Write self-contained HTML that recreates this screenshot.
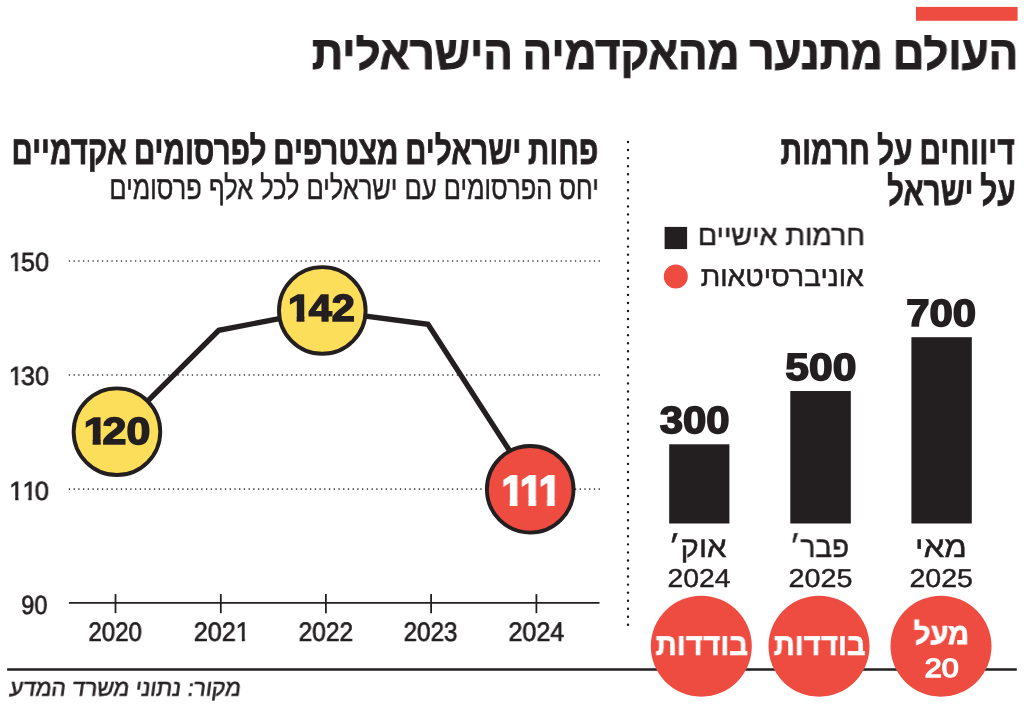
<!DOCTYPE html>
<html lang="he"><head><meta charset="utf-8"><title>העולם מתנער מהאקדמיה הישראלית</title>
<style>
html,body{margin:0;padding:0;background:#fff}
#g{position:relative;width:1024px;height:705px;overflow:hidden;background:#fff;font-family:"Liberation Sans",sans-serif}
.t{position:absolute;left:0;top:0;line-height:1;white-space:nowrap;direction:rtl;text-align:left;transform-origin:0 0;unicode-bidi:plaintext;paint-order:stroke fill;text-rendering:geometricPrecision;will-change:transform}
</style></head><body>
<div id="g">
<svg width="1024" height="705" viewBox="0 0 1024 705" style="position:absolute;left:0;top:0">
<rect x="916" y="6.9" width="101.6" height="13.9" fill="#ee4b41"/>
<line x1="628" y1="142" x2="628" y2="625.3" stroke="#1a1718" stroke-width="2.4" stroke-linecap="round" stroke-dasharray="0 8.047"/>
<line x1="69.45" y1="261" x2="599.4" y2="261" stroke="#231f20" stroke-width="1.6" stroke-linecap="round" stroke-dasharray="0 4.73"/>
<line x1="69.45" y1="375" x2="599.4" y2="375" stroke="#231f20" stroke-width="1.6" stroke-linecap="round" stroke-dasharray="0 4.73"/>
<line x1="69.45" y1="489.1" x2="599.4" y2="489.1" stroke="#231f20" stroke-width="1.6" stroke-linecap="round" stroke-dasharray="0 4.73"/>
<line x1="68.9" y1="602.85" x2="599.5" y2="602.85" stroke="#231f20" stroke-width="1.8"/>
<line x1="115.5" y1="594.1" x2="115.5" y2="613.2" stroke="#231f20" stroke-width="1.8"/>
<line x1="220.8" y1="594.1" x2="220.8" y2="613.2" stroke="#231f20" stroke-width="1.8"/>
<line x1="325.9" y1="594.1" x2="325.9" y2="613.2" stroke="#231f20" stroke-width="1.8"/>
<line x1="431.1" y1="594.1" x2="431.1" y2="613.2" stroke="#231f20" stroke-width="1.8"/>
<line x1="536.4" y1="594.1" x2="536.4" y2="613.2" stroke="#231f20" stroke-width="1.8"/>
<polyline points="116.95,431.7 218.8,330.3 322.3,310.4 428,324.3 534.5,489.3" fill="none" stroke="#231f20" stroke-width="5.3" stroke-linejoin="miter"/>
<circle cx="116.95" cy="431.7" r="43.3" fill="#fdde5a" stroke="#231f20" stroke-width="3.9"/>
<circle cx="322.3" cy="310.4" r="43.3" fill="#fdde5a" stroke="#231f20" stroke-width="3.9"/>
<circle cx="530.2" cy="489.3" r="43.3" fill="#ee4b41" stroke="#231f20" stroke-width="3.9"/>
<rect x="664.6" y="226.9" width="22.5" height="22.2" fill="#231f20"/>
<circle cx="675.8" cy="276.4" r="12" fill="#ee4b41"/>
<rect x="669.2" y="444.3" width="60.2" height="79.2" fill="#231f20"/>
<rect x="790.3" y="391" width="60.5" height="132.5" fill="#231f20"/>
<rect x="911.4" y="337.2" width="60.4" height="186.3" fill="#231f20"/>
<line x1="7.1" y1="669.6" x2="1016.8" y2="669.6" stroke="#231f20" stroke-width="2.5"/>
<circle cx="701.3" cy="646.2" r="50.5" fill="#ee4b41"/>
<circle cx="819" cy="646.2" r="50.5" fill="#ee4b41"/>
<circle cx="941" cy="646.2" r="50.5" fill="#ee4b41"/>
</svg>
<div class="t" style="font-size:47.03px;font-weight:bold;font-style:normal;color:#231f20;-webkit-text-stroke:1.0px #231f20;word-spacing:-0.05em;clip-path:inset(6.2px -20px -20px -20px);transform:translate(311.81px,29.00px) scaleX(0.9306)">העולם מתנער מהאקדמיה הישראלית</div>
<div class="t" style="font-size:40.27px;font-weight:bold;font-style:normal;color:#231f20;-webkit-text-stroke:0.8px #231f20;word-spacing:-0.05em;clip-path:inset(1.6px -20px -20px -20px);transform:translate(11.40px,131.00px) scaleX(0.7361)">פחות ישראלים מצטרפים לפרסומים אקדמיים</div>
<div class="t" style="font-size:32.88px;font-weight:normal;font-style:normal;color:#231f20;-webkit-text-stroke:0.5px #231f20;clip-path:inset(0.3px -20px -20px -20px);transform:translate(109.28px,172.00px) scaleX(0.7736)">יחס הפרסומים עם ישראלים לכל אלף פרסומים</div>
<div class="t" style="font-size:40.27px;font-weight:bold;font-style:normal;color:#231f20;-webkit-text-stroke:0.8px #231f20;word-spacing:-0.05em;clip-path:inset(1.0px -20px -20px -20px);transform:translate(780.52px,131.00px) scaleX(0.7430)">דיווחים על חרמות</div>
<div class="t" style="font-size:40.60px;font-weight:bold;font-style:normal;color:#231f20;-webkit-text-stroke:0.8px #231f20;word-spacing:-0.05em;clip-path:inset(1.9px -20px -20px -20px);transform:translate(886.99px,171.00px) scaleX(0.7313)">על ישראל</div>
<div class="t" style="font-size:28.54px;font-weight:normal;font-style:normal;color:#231f20;-webkit-text-stroke:0.5px #231f20;transform:translate(697.82px,222.00px) scaleX(0.9975)">חרמות אישיים</div>
<div class="t" style="font-size:28.04px;font-weight:normal;font-style:normal;color:#231f20;-webkit-text-stroke:0.5px #231f20;transform:translate(700.67px,263.00px) scaleX(1.0098)">אוניברסיטאות</div>
<div class="t" style="font-size:37.94px;font-weight:bold;font-style:normal;color:#231f20;-webkit-text-stroke:1.6px #231f20;transform:translate(659.69px,403.00px) scaleX(1.1045)">300</div>
<div class="t" style="font-size:37.94px;font-weight:bold;font-style:normal;color:#231f20;-webkit-text-stroke:1.6px #231f20;transform:translate(785.31px,350.00px) scaleX(1.1233)">500</div>
<div class="t" style="font-size:37.94px;font-weight:bold;font-style:normal;color:#231f20;-webkit-text-stroke:1.6px #231f20;transform:translate(906.26px,296.00px) scaleX(1.1049)">700</div>
<div class="t" style="font-size:29.21px;font-weight:normal;font-style:normal;color:#231f20;-webkit-text-stroke:0.5px #231f20;transform:translate(668.60px,534.00px) scaleX(1.0650)">אוק׳</div>
<div class="t" style="font-size:29.21px;font-weight:normal;font-style:normal;color:#231f20;-webkit-text-stroke:0.5px #231f20;transform:translate(789.73px,534.00px) scaleX(0.9554)">פבר׳</div>
<div class="t" style="font-size:29.21px;font-weight:normal;font-style:normal;color:#231f20;-webkit-text-stroke:0.5px #231f20;transform:translate(915.12px,534.00px) scaleX(1.1249)">מאי</div>
<div class="t" style="font-size:25.87px;font-weight:normal;font-style:normal;color:#231f20;-webkit-text-stroke:0.4px #231f20;transform:translate(667.45px,567.00px) scaleX(1.0955)">2024</div>
<div class="t" style="font-size:25.87px;font-weight:normal;font-style:normal;color:#231f20;-webkit-text-stroke:0.4px #231f20;transform:translate(788.62px,567.00px) scaleX(1.1123)">2025</div>
<div class="t" style="font-size:25.87px;font-weight:normal;font-style:normal;color:#231f20;-webkit-text-stroke:0.4px #231f20;transform:translate(909.39px,567.00px) scaleX(1.1061)">2025</div>
<div class="t" style="font-size:31.03px;font-weight:bold;font-style:normal;color:#fff;-webkit-text-stroke:0.6px #fff;transform:translate(655.60px,629.00px) scaleX(0.9549)">בודדות</div>
<div class="t" style="font-size:31.03px;font-weight:bold;font-style:normal;color:#fff;-webkit-text-stroke:0.6px #fff;transform:translate(773.79px,629.00px) scaleX(0.9478)">בודדות</div>
<div class="t" style="font-size:29.54px;font-weight:bold;font-style:normal;color:#fff;-webkit-text-stroke:0.8px #fff;clip-path:inset(-0.1px -20px -20px -20px);transform:translate(913.77px,620.00px) scaleX(0.9838)">מעל</div>
<div class="t" style="font-size:26.31px;font-weight:normal;font-style:normal;color:#fff;-webkit-text-stroke:1.4px #fff;transform:translate(924.80px,655.00px) scaleX(1.1575)">20</div>
<div class="t" style="font-size:26.31px;font-weight:normal;font-style:normal;color:#231f20;-webkit-text-stroke:0.7px #231f20;direction:ltr;transform:translate(8.93px,249.00px) scaleX(0.9583)"><span style="display:inline-block;clip-path:polygon(-2px -6px,16.63px -6px,16.63px 18.59px,9.39px 18.59px,9.39px 32.31px,6.17px 32.31px,6.17px 18.59px,-2px 18.59px);margin-right:-2.04px">1</span>50</div>
<div class="t" style="font-size:26.31px;font-weight:normal;font-style:normal;color:#231f20;-webkit-text-stroke:0.7px #231f20;direction:ltr;transform:translate(8.93px,363.00px) scaleX(0.9583)"><span style="display:inline-block;clip-path:polygon(-2px -6px,16.63px -6px,16.63px 18.59px,9.39px 18.59px,9.39px 32.31px,6.17px 32.31px,6.17px 18.59px,-2px 18.59px);margin-right:-2.04px">1</span>30</div>
<div class="t" style="font-size:26.31px;font-weight:normal;font-style:normal;color:#231f20;-webkit-text-stroke:0.7px #231f20;direction:ltr;transform:translate(9.23px,478.00px) scaleX(0.9768)"><span style="display:inline-block;clip-path:polygon(-2px -6px,16.63px -6px,16.63px 18.59px,9.39px 18.59px,9.39px 32.31px,6.17px 32.31px,6.17px 18.59px,-2px 18.59px);margin-right:-1.27px">1</span><span style="display:inline-block;clip-path:polygon(-2px -6px,16.63px -6px,16.63px 18.59px,9.39px 18.59px,9.39px 32.31px,6.17px 32.31px,6.17px 18.59px,-2px 18.59px);margin-right:-2.04px">1</span>0</div>
<div class="t" style="font-size:26.31px;font-weight:normal;font-style:normal;color:#231f20;-webkit-text-stroke:0.7px #231f20;transform:translate(21.23px,592.00px) scaleX(0.8916)">90</div>
<div class="t" style="font-size:26.74px;font-weight:normal;font-style:normal;color:#231f20;-webkit-text-stroke:0.7px #231f20;transform:translate(88.42px,619.00px) scaleX(0.8997)">2020</div>
<div class="t" style="font-size:26.74px;font-weight:normal;font-style:normal;color:#231f20;-webkit-text-stroke:0.7px #231f20;direction:ltr;transform:translate(193.77px,619.00px) scaleX(0.9429)">202<span style="display:inline-block;clip-path:polygon(-2px -6px,16.87px -6px,16.87px 18.55px,9.54px 18.55px,9.54px 32.74px,6.28px 32.74px,6.28px 18.55px,-2px 18.55px);margin-right:-3.12px">1</span></div>
<div class="t" style="font-size:26.74px;font-weight:normal;font-style:normal;color:#231f20;-webkit-text-stroke:0.7px #231f20;transform:translate(298.60px,619.00px) scaleX(0.9180)">2022</div>
<div class="t" style="font-size:26.74px;font-weight:normal;font-style:normal;color:#231f20;-webkit-text-stroke:0.7px #231f20;transform:translate(403.60px,619.00px) scaleX(0.9069)">2023</div>
<div class="t" style="font-size:26.74px;font-weight:normal;font-style:normal;color:#231f20;-webkit-text-stroke:0.7px #231f20;transform:translate(508.47px,619.00px) scaleX(0.9391)">2024</div>
<div class="t" style="font-size:37.79px;font-weight:bold;font-style:normal;color:#231f20;-webkit-text-stroke:1.6px #231f20;direction:ltr;transform:translate(83.73px,414.00px) scaleX(1.1342)"><span style="display:inline-block;clip-path:polygon(-2px -6px,23.02px -6px,23.02px 24.28px,14.91px 24.28px,14.91px 43.79px,7.92px 43.79px,7.92px 24.28px,-2px 24.28px);margin-right:-4.41px">1</span>20</div>
<div class="t" style="font-size:37.79px;font-weight:bold;font-style:normal;color:#231f20;-webkit-text-stroke:1.6px #231f20;direction:ltr;transform:translate(288.00px,291.00px) scaleX(1.0981)"><span style="display:inline-block;clip-path:polygon(-2px -6px,23.02px -6px,23.02px 24.28px,14.91px 24.28px,14.91px 43.79px,7.92px 43.79px,7.92px 24.28px,-2px 24.28px);margin-right:-2.20px">1</span>42</div>
<div class="t" style="font-size:42.30px;font-weight:bold;font-style:normal;color:#fff;-webkit-text-stroke:2.0px #fff;direction:ltr;transform:translate(501.58px,470.00px) scaleX(0.9397)"><span style="display:inline-block;clip-path:polygon(-2px -6px,25.52px -6px,25.52px 28.68px,16.78px 28.68px,16.78px 48.30px,8.77px 48.30px,8.77px 28.68px,-2px 28.68px);margin-right:-3.70px">1</span><span style="display:inline-block;clip-path:polygon(-2px -6px,25.52px -6px,25.52px 28.68px,16.78px 28.68px,16.78px 48.30px,8.77px 48.30px,8.77px 28.68px,-2px 28.68px);margin-right:-3.70px">1</span><span style="display:inline-block;clip-path:polygon(-2px -6px,25.52px -6px,25.52px 28.68px,16.78px 28.68px,16.78px 48.30px,8.77px 48.30px,8.77px 28.68px,-2px 28.68px);margin-right:-5.35px">1</span></div>
<div class="t" style="font-size:23.03px;font-weight:normal;font-style:normal;color:#231f20;-webkit-text-stroke:0.6px #231f20;transform:translate(11.50px,677.00px) scaleX(0.9931) skewX(-8deg)">מקור: נתוני משרד המדע</div>
</div>
</body></html>
